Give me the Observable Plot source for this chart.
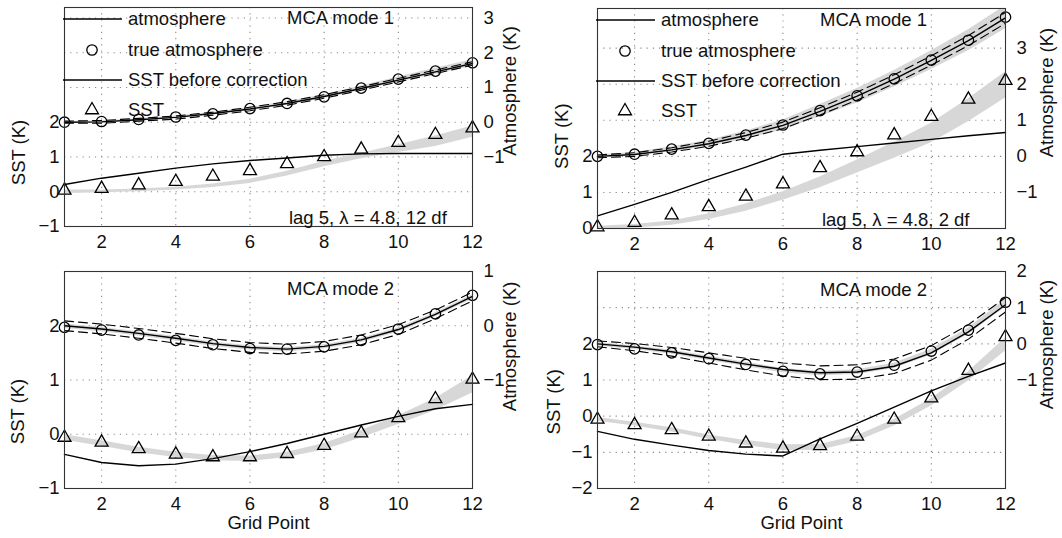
<!DOCTYPE html>
<html><head><meta charset="utf-8">
<script src="https://cdn.jsdelivr.net/npm/d3@7"></script>
<script src="https://cdn.jsdelivr.net/npm/@observablehq/plot@0.6"></script>
<style>
body{margin:0;background:#fff;}
#wrap{position:relative;width:1062px;height:538px;overflow:hidden;font-family:"Liberation Sans",Arial,Helvetica,sans-serif;}
.panel{position:absolute;}
.legend{position:absolute;left:0;top:0;pointer-events:none;}
</style></head><body><div id="wrap"></div>
<script>
const gridPoint = [1,2,3,4,5,6,7,8,9,10,11,12];
const xTicks = [2,4,6,8,10,12];
const legendLabels = ["atmosphere","true atmosphere","SST before correction","SST"];

// Panel 1: top-left (atmosphere values in K on right axis, SST in K on left axis)
const p1AtmTrue   = [0.00,0.02,0.08,0.15,0.24,0.39,0.54,0.73,0.98,1.24,1.47,1.71];
const p1AtmEst    = [0.00,0.01,0.07,0.14,0.25,0.38,0.54,0.74,0.97,1.21,1.45,1.69];
const p1AtmLo     = [-0.03,-0.03,0.03,0.09,0.20,0.33,0.49,0.69,0.92,1.16,1.40,1.64];
const p1AtmHi     = [0.03,0.05,0.11,0.18,0.29,0.43,0.59,0.79,1.02,1.26,1.50,1.74];
const p1AtmBandLo = [-0.02,0.00,0.05,0.12,0.21,0.34,0.49,0.68,0.91,1.15,1.38,1.60];
const p1AtmBandHi = [0.02,0.04,0.10,0.18,0.28,0.43,0.59,0.79,1.04,1.30,1.55,1.80];
const p1SstTrue   = [0.04,0.09,0.19,0.29,0.44,0.60,0.80,1.00,1.22,1.41,1.64,1.83];
const p1SstBandLo = [-0.05,-0.03,0.00,0.05,0.12,0.24,0.45,0.72,0.95,1.13,1.30,1.57];
const p1SstBandHi = [0.05,0.05,0.08,0.13,0.22,0.36,0.59,0.88,1.11,1.35,1.60,1.89];
const p1SstBefore = [0.21,0.39,0.53,0.68,0.80,0.90,0.97,1.05,1.09,1.10,1.10,1.10];

// Panel 2: top-right
const p2AtmTrue   = [0.00,0.06,0.20,0.36,0.59,0.87,1.27,1.68,2.15,2.67,3.22,3.86];
const p2AtmEst    = [0.00,0.05,0.18,0.35,0.58,0.86,1.25,1.67,2.14,2.66,3.21,3.84];
const p2AtmLo     = [-0.04,0.00,0.12,0.28,0.50,0.77,1.15,1.56,2.02,2.53,3.07,3.69];
const p2AtmHi     = [0.04,0.10,0.24,0.42,0.66,0.95,1.35,1.78,2.26,2.79,3.35,3.99];
const p2AtmBandLo = [-0.04,0.01,0.13,0.27,0.48,0.73,1.10,1.48,1.92,2.41,2.93,3.54];
const p2AtmBandHi = [0.04,0.11,0.27,0.45,0.70,1.01,1.44,1.88,2.38,2.93,3.51,4.18];
const p2SstTrue   = [0.04,0.16,0.37,0.60,0.89,1.23,1.68,2.12,2.59,3.10,3.58,4.10];
const p2SstBandLo = [-0.02,0.01,0.09,0.25,0.48,0.78,1.13,1.54,1.95,2.38,2.96,3.62];
const p2SstBandHi = [0.06,0.11,0.21,0.41,0.68,1.02,1.43,1.90,2.39,2.92,3.60,4.34];
const p2SstBefore = [0.35,0.67,1.00,1.36,1.70,2.06,2.17,2.27,2.37,2.47,2.57,2.66];

// Panel 3: bottom-left
const p3AtmTrue   = [-0.03,-0.08,-0.17,-0.27,-0.35,-0.42,-0.43,-0.39,-0.27,-0.06,0.22,0.56];
const p3AtmEst    = [0.00,-0.06,-0.14,-0.23,-0.33,-0.40,-0.43,-0.38,-0.26,-0.07,0.21,0.54];
const p3AtmLo     = [-0.09,-0.15,-0.23,-0.32,-0.42,-0.49,-0.52,-0.47,-0.35,-0.16,0.13,0.46];
const p3AtmHi     = [0.09,0.03,-0.05,-0.14,-0.24,-0.31,-0.34,-0.29,-0.17,0.02,0.29,0.62];
const p3AtmBandLo = [-0.05,-0.11,-0.19,-0.28,-0.38,-0.45,-0.48,-0.43,-0.31,-0.12,0.16,0.49];
const p3AtmBandHi = [0.03,-0.03,-0.11,-0.20,-0.30,-0.37,-0.40,-0.35,-0.23,-0.04,0.24,0.57];
const p3SstTrue   = [-0.06,-0.15,-0.27,-0.37,-0.42,-0.42,-0.36,-0.21,0.02,0.30,0.65,1.01];
const p3SstBandLo = [-0.11,-0.22,-0.34,-0.43,-0.49,-0.50,-0.43,-0.29,-0.07,0.18,0.44,0.76];
const p3SstBandHi = [-0.01,-0.12,-0.24,-0.33,-0.39,-0.40,-0.33,-0.17,0.07,0.34,0.66,1.08];
const p3SstBefore = [-0.37,-0.52,-0.58,-0.55,-0.45,-0.32,-0.17,0.00,0.17,0.33,0.47,0.55];

// Panel 4: bottom-right
const p4AtmTrue   = [-0.02,-0.14,-0.25,-0.41,-0.57,-0.76,-0.83,-0.78,-0.59,-0.20,0.38,1.15];
const p4AtmEst    = [0.00,-0.09,-0.22,-0.39,-0.56,-0.71,-0.80,-0.78,-0.62,-0.25,0.33,1.08];
const p4AtmLo     = [-0.08,-0.19,-0.34,-0.53,-0.72,-0.89,-0.99,-0.98,-0.82,-0.45,0.13,0.88];
const p4AtmHi     = [0.08,0.01,-0.10,-0.25,-0.40,-0.53,-0.61,-0.58,-0.42,-0.05,0.53,1.28];
const p4AtmBandLo = [-0.06,-0.16,-0.29,-0.46,-0.63,-0.80,-0.88,-0.85,-0.68,-0.31,0.26,1.01];
const p4AtmBandHi = [0.04,-0.06,-0.17,-0.34,-0.51,-0.68,-0.76,-0.72,-0.54,-0.15,0.44,1.23];
const p4SstTrue   = [-0.09,-0.24,-0.38,-0.56,-0.75,-0.89,-0.82,-0.56,-0.09,0.50,1.26,2.19];
const p4SstBandLo = [-0.14,-0.27,-0.44,-0.64,-0.81,-0.95,-0.94,-0.70,-0.27,0.28,0.97,1.80];
const p4SstBandHi = [-0.04,-0.17,-0.32,-0.52,-0.67,-0.79,-0.78,-0.54,-0.09,0.48,1.23,2.16];
const p4SstBefore = [-0.42,-0.64,-0.80,-0.95,-1.05,-1.10,-0.63,-0.20,0.25,0.70,1.10,1.47];

// tick labels
const p1LeftTicks = [-1,0,1,2], p1RightTicks = [-1,0,1,2,3];
const p2LeftTicks = [0,1,2],    p2RightTicks = [-1,0,1,2,3];
const p3LeftTicks = [-1,0,1,2], p3RightTicks = [-1,0,1];
const p4LeftTicks = [-2,-1,0,1,2], p4RightTicks = [-1,0,1,2];

const ATM_OFFSET = 2; // atmosphere axis zero sits at SST = 2

function rowsOf(atmTrue, atmEst, atmLo, atmHi, atmBandLo, atmBandHi, sstTrue, sstBandLo, sstBandHi, sstBefore) {
  return gridPoint.map((g, i) => ({
    g,
    atmTrue: atmTrue[i] + ATM_OFFSET, atmEst: atmEst[i] + ATM_OFFSET,
    atmLo: atmLo[i] + ATM_OFFSET, atmHi: atmHi[i] + ATM_OFFSET,
    atmBandLo: atmBandLo[i] + ATM_OFFSET, atmBandHi: atmBandHi[i] + ATM_OFFSET,
    sstTrue: sstTrue[i], sstBandLo: sstBandLo[i], sstBandHi: sstBandHi[i], sstBefore: sstBefore[i]
  }));
}

const fmt = v => (v < 0 ? "\u2212" + Math.abs(v) : String(v));
const FONT = '"Liberation Sans", Arial, Helvetica, sans-serif';
const FS = "18.5px";
const dotted = {stroke: "#8a8a8a", strokeOpacity: 1, strokeWidth: 1.1, strokeDasharray: "1.2,5"};

const panels = [
  {left: 0, top: 0, height: 260, mL: 64, mR: 59, mT: 7, mB: 34, yDomain: [-1, 5.3],
   rows: rowsOf(p1AtmTrue,p1AtmEst,p1AtmLo,p1AtmHi,p1AtmBandLo,p1AtmBandHi,p1SstTrue,p1SstBandLo,p1SstBandHi,p1SstBefore),
   leftTicks: p1LeftTicks, rightTicks: p1RightTicks, gridY: [0,1,2,3,4,5],
   mode: "MCA mode 1", modeY: 5.0, note: "lag 5, \u03bb = 4.8, 12 df",
   sstLabel: {y: 1.13, dx: -45}, atmLabel: {y: 2.9, dx: 38}, xLabel: false, legend: true},
  {left: 531, top: 0, height: 260, mL: 66, mR: 57, mT: 8, mB: 32, yDomain: [0, 6.1],
   rows: rowsOf(p2AtmTrue,p2AtmEst,p2AtmLo,p2AtmHi,p2AtmBandLo,p2AtmBandHi,p2SstTrue,p2SstBandLo,p2SstBandHi,p2SstBefore),
   leftTicks: p2LeftTicks, rightTicks: p2RightTicks, gridY: [1,2,3,4,5],
   mode: "MCA mode 1", modeY: 5.79, note: "lag 5, \u03bb = 4.8, 2 df",
   sstLabel: {y: 2.56, dx: -35}, atmLabel: {y: 3.77, dx: 42}, xLabel: false, legend: true},
  {left: 0, top: 260, height: 278, mL: 64, mR: 59, mT: 11, mB: 50, yDomain: [-1, 3],
   rows: rowsOf(p3AtmTrue,p3AtmEst,p3AtmLo,p3AtmHi,p3AtmBandLo,p3AtmBandHi,p3SstTrue,p3SstBandLo,p3SstBandHi,p3SstBefore),
   leftTicks: p3LeftTicks, rightTicks: p3RightTicks, gridY: [0,1,2],
   mode: "MCA mode 2", modeY: 2.67, note: null,
   sstLabel: {y: 0.42, dx: -46}, atmLabel: {y: 1.62, dx: 38}, xLabel: true, legend: false},
  {left: 531, top: 260, height: 278, mL: 66, mR: 57, mT: 11, mB: 50, yDomain: [-2, 4],
   rows: rowsOf(p4AtmTrue,p4AtmEst,p4AtmLo,p4AtmHi,p4AtmBandLo,p4AtmBandHi,p4SstTrue,p4SstBandLo,p4SstBandHi,p4SstBefore),
   leftTicks: p4LeftTicks, rightTicks: p4RightTicks, gridY: [-1,0,1,2,3],
   mode: "MCA mode 2", modeY: 3.5, note: null,
   sstLabel: {y: 0.40, dx: -43}, atmLabel: {y: 1.98, dx: 42}, xLabel: true, legend: false}
];

const wrap = document.getElementById("wrap");

for (const p of panels) {
  const r = p.rows;
  const marks = [
    Plot.gridX([2,4,6,8,10], dotted),
    Plot.gridY(p.gridY, dotted),
    Plot.areaY(r, {x: "g", y1: "sstBandLo", y2: "sstBandHi", fill: "#d7d7d7", clip: true}),
    Plot.areaY(r, {x: "g", y1: "atmBandLo", y2: "atmBandHi", fill: "#d7d7d7", clip: true}),
    Plot.line(r, {x: "g", y: "atmLo", stroke: "#000", strokeWidth: 1.1, strokeDasharray: "9,5"}),
    Plot.line(r, {x: "g", y: "atmHi", stroke: "#000", strokeWidth: 1.1, strokeDasharray: "9,5"}),
    Plot.line(r, {x: "g", y: "atmEst", stroke: "#000", strokeWidth: 1.4}),
    Plot.line(r, {x: "g", y: "sstBefore", stroke: "#000", strokeWidth: 1.4}),
    Plot.dot(r, {x: "g", y: "atmTrue", r: 5.2, stroke: "#000", strokeWidth: 1.3, fill: "none"}),
    Plot.dot(r, {x: "g", y: "sstTrue", symbol: "triangle", r: 4.8, stroke: "#000", strokeWidth: 1.3, fill: "none"}),
    Plot.frame({stroke: "#333", strokeWidth: 1.1}),
    Plot.axisY(p.leftTicks, {anchor: "left", tickSize: 0, tickPadding: 5, tickFormat: fmt, label: null}),
    Plot.axisY(p.rightTicks.map(t => t + ATM_OFFSET), {anchor: "right", tickSize: 0, tickPadding: 11, tickFormat: t => fmt(t - ATM_OFFSET), label: null}),
    Plot.axisX(xTicks, {anchor: "bottom", tickSize: 0, tickPadding: 8, label: null}),
    Plot.text([p.mode], {x: 7, y: p.modeY, textAnchor: "start", lineAnchor: "middle"}),
    Plot.text(["SST (K)"], {frameAnchor: "left", y: p.sstLabel.y, dx: p.sstLabel.dx, rotate: -90, textAnchor: "middle", lineAnchor: "middle"}),
    Plot.text(["Atmosphere (K)"], {frameAnchor: "right", y: p.atmLabel.y, dx: p.atmLabel.dx, rotate: -90, textAnchor: "middle", lineAnchor: "middle"})
  ];
  if (p.note) marks.push(Plot.text([p.note], {x: 7.05, frameAnchor: "bottom", textAnchor: "start", lineAnchor: "bottom", dy: -3}));
  if (p.xLabel) marks.push(Plot.text(["Grid Point"], {x: 6.5, frameAnchor: "bottom", textAnchor: "middle", lineAnchor: "middle", dy: 35}));

  const chart = Plot.plot({
    width: 531, height: p.height,
    marginLeft: p.mL, marginRight: p.mR, marginTop: p.mT, marginBottom: p.mB,
    x: {domain: [1, 12]},
    y: {domain: p.yDomain},
    style: {fontFamily: FONT, fontSize: FS, color: "#111", background: "transparent", overflow: "visible"},
    marks
  });
  const holder = document.createElement("div");
  holder.className = "panel";
  holder.style.left = p.left + "px";
  holder.style.top = p.top + "px";
  holder.appendChild(chart);

  if (p.legend) {
    const svg = d3.create("svg").attr("class", "legend").attr("width", 531).attr("height", p.height)
      .style("font-family", FONT).style("font-size", FS);
    const x0 = p.mL - 1, x1 = p.mL + 58, xm = p.mL + 28, xt = p.mL + 64;
    const rowsY = [p.mT + 12, p.mT + 43, p.mT + 73, p.mT + 103];
    legendLabels.forEach((lab, i) => {
      const y = rowsY[i];
      if (i === 0 || i === 2) {
        svg.append("line").attr("x1", x0).attr("x2", x1).attr("y1", y).attr("y2", y).attr("stroke", "#000").attr("stroke-width", 1.4);
      } else if (i === 1) {
        svg.append("circle").attr("cx", xm).attr("cy", y).attr("r", 5.2).attr("fill", "none").attr("stroke", "#000").attr("stroke-width", 1.3);
      } else {
        svg.append("path").attr("transform", `translate(${xm},${y})`).attr("d", d3.symbol(d3.symbolTriangle, Math.PI * 4.8 * 4.8)())
          .attr("fill", "none").attr("stroke", "#000").attr("stroke-width", 1.3);
      }
      svg.append("text").attr("x", xt).attr("y", y).attr("dy", "0.35em").attr("fill", "#111").text(lab);
    });
    holder.appendChild(svg.node());
  }
  wrap.appendChild(holder);
}
</script>
</body></html>
